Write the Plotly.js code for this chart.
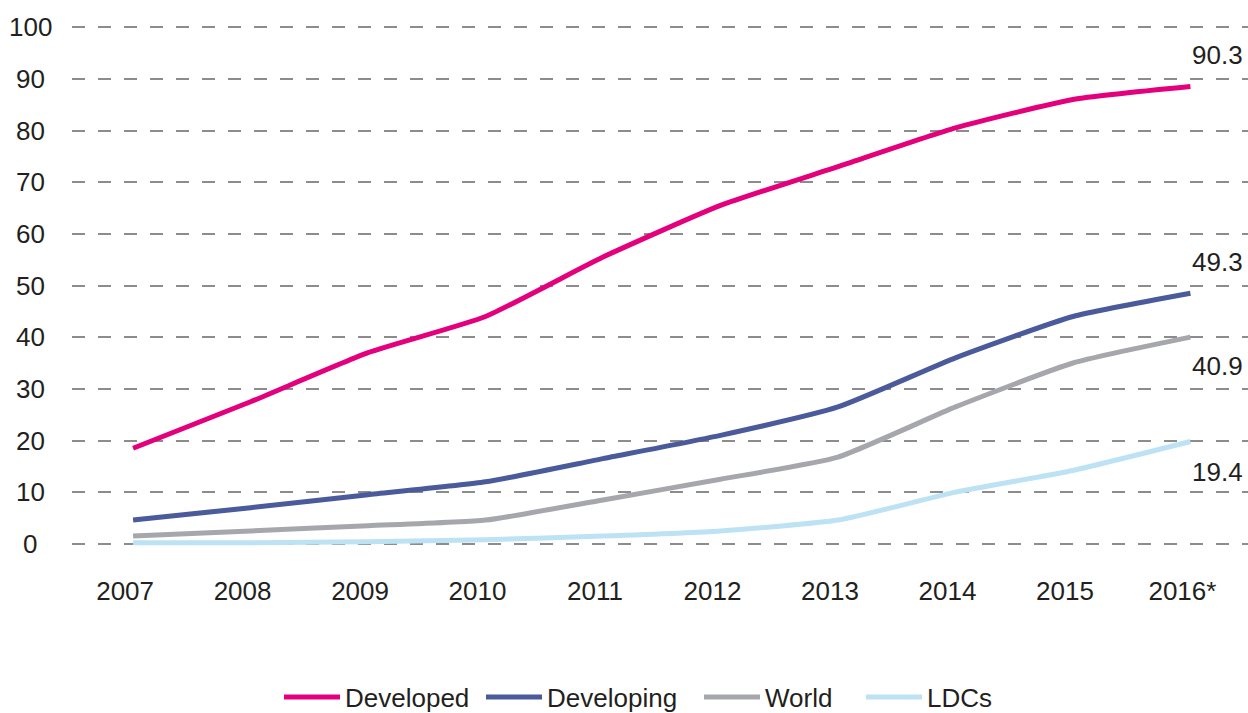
<!DOCTYPE html>
<html>
<head>
<meta charset="utf-8">
<script src="https://cdn.plot.ly/plotly-3.0.1.min.js"></script>
<style>html,body{margin:0;padding:0;background:#fff;}#chart{width:1248px;height:713px;}</style>
</head>
<body>
<div id="chart"></div>
<script>
const years = [2007, 2008, 2009, 2010, 2011, 2012, 2013, 2014, 2015, 2016];
const yearLabels = ["2007", "2008", "2009", "2010", "2011", "2012", "2013", "2014", "2015", "2016*"];
const yTicks = [0, 10, 20, 30, 40, 50, 60, 70, 80, 90, 100];
const developed = [18.5, 27.5, 37, 44, 55.5, 65.5, 73, 80.5, 86, 88.5];
const developing = [4.6, 7, 9.5, 12, 16.5, 21, 26.5, 36, 44, 48.5];
const world = [1.5, 2.5, 3.5, 4.6, 8.5, 12.5, 16.8, 26.5, 35, 40];
const ldcs = [0.2, 0.2, 0.4, 0.8, 1.5, 2.5, 4.6, 10, 14.2, 19.8];
const seriesNames = ["Developed", "Developing", "World", "LDCs"];
const endLabels = ["90.3", "49.3", "40.9", "19.4"];
const endLabelY = [94.6, 54.5, 34.4, 13.9];
const colors = ["#e4007c", "#4a5a9b", "#a6a7ac", "#bce2f3"];

// layout geometry
const ML = 72, MT = 22, MB = 164, W = 1248, H = 713;
const plotW = W - ML, plotH = H - MT - MB;
const legendIds = ["legend", "legend2", "legend3", "legend4"];
const legendPx = [285, 487, 705, 867]; // left edge of each legend line symbol

const data = [developed, developing, world, ldcs].map((vals, i) => ({
  x: years, y: vals, type: "scatter", mode: "lines", name: seriesNames[i],
  line: {color: colors[i], width: 5, shape: "spline", smoothing: 0.5}, legend: legendIds[i]
}));

const annotations = endLabels.map((t, i) => ({
  x: 2016.23, y: endLabelY[i], xref: "x", yref: "y", text: t, showarrow: false,
  font: {size: 26, color: "#231f20"}
})).concat(yTicks.map(v => ({
  x: (30 - ML) / plotW, xref: "paper", y: v, yref: "y", text: String(v),
  showarrow: false, xanchor: "center", yanchor: "middle",
  font: {size: 26, color: "#231f20"}
})));

const layout = {
  width: W, height: H,
  margin: {l: ML, r: 0, t: MT, b: MB, autoexpand: false},
  paper_bgcolor: "#fff", plot_bgcolor: "#fff",
  font: {family: "Liberation Sans, Arial, sans-serif", size: 26, color: "#231f20"},
  showlegend: true,
  xaxis: {range: [2006.48, 2016.49], tickvals: years, ticktext: yearLabels,
    showgrid: false, zeroline: false, showline: false, ticks: "",
    ticklabelstandoff: 24, ticklabelshift: -8},
  yaxis: {range: [-1, 101], tickvals: yTicks, showticklabels: false,
    showgrid: true, gridcolor: "#8c8c8c", gridwidth: 2, griddash: "13px,13px",
    zeroline: false, showline: false, ticks: ""},
  annotations: annotations
};
legendIds.forEach((id, i) => {
  layout[id] = {orientation: "h", x: (legendPx[i] - ML - 6) / plotW, xanchor: "left",
    y: -(697 - (H - MB)) / plotH, yanchor: "middle",
    font: {size: 26, color: "#231f20"}, itemwidth: 56, bgcolor: "rgba(0,0,0,0)"};
});
Plotly.newPlot("chart", data, layout, {displayModeBar: false});
</script>
</body>
</html>
